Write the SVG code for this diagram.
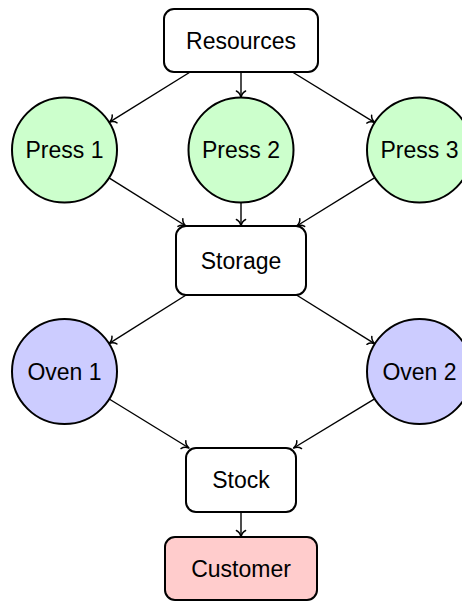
<svg xmlns="http://www.w3.org/2000/svg" width="462" height="602" viewBox="0 0 462 602">
<style>
.box{fill:#ffffff;stroke:#000;stroke-width:2}
.press{fill:#ccffcc;stroke:#000;stroke-width:2}
.oven{fill:#ccccff;stroke:#000;stroke-width:2}
.cust{fill:#ffcccc;stroke:#000;stroke-width:2}
text{font-family:"Liberation Sans",Arial,sans-serif;font-size:23px;fill:#000;text-anchor:middle}
.edge{stroke:#000;stroke-width:1.4;fill:none;marker-end:url(#arr)}
</style>
<defs>
<marker id="arr" markerUnits="userSpaceOnUse" markerWidth="14" markerHeight="14" viewBox="-8 -7 9 14" refX="0" refY="0" orient="auto">
<path d="M -6.5 -4.6 C -5.2 -1.8 -1.8 -0.35 0 0 C -1.8 0.35 -5.2 1.8 -6.5 4.6" fill="none" stroke="#000" stroke-width="1.5" stroke-linecap="round" stroke-linejoin="round"/>
</marker>
</defs>
<rect width="462" height="602" fill="#ffffff"/>
<g id="edges">
<line class="edge" x1="190.2" y1="72" x2="109.1" y2="122.3"/>
<line class="edge" x1="241" y1="72" x2="241" y2="97.5"/>
<line class="edge" x1="292.4" y1="72" x2="374.75" y2="122.55"/>
<line class="edge" x1="109" y1="177.9" x2="185.9" y2="226"/>
<line class="edge" x1="241" y1="202.5" x2="241" y2="226"/>
<line class="edge" x1="374.85" y1="177.6" x2="296.7" y2="226"/>
<line class="edge" x1="186.1" y1="295" x2="108.9" y2="343.55"/>
<line class="edge" x1="296.5" y1="295" x2="374.9" y2="343.8"/>
<line class="edge" x1="109.2" y1="399" x2="188.95" y2="448"/>
<line class="edge" x1="374.6" y1="398.8" x2="293.6" y2="448"/>
<line class="edge" x1="241" y1="512" x2="241" y2="537"/>
</g>
<g id="resources"><rect class="box" x="164" y="9" width="154" height="63" rx="10"/><text x="241" y="48.7">Resources</text></g>
<g id="press1"><circle class="press" cx="64.5" cy="150" r="52.5"/><text x="64.5" y="158.2">Press 1</text></g>
<g id="press2"><circle class="press" cx="241" cy="150" r="52.5"/><text x="241" y="158.2">Press 2</text></g>
<g id="press3"><circle class="press" cx="419.5" cy="150" r="52.5"/><text x="419.5" y="158.2">Press 3</text></g>
<g id="storage"><rect class="box" x="176" y="226" width="130" height="69" rx="10"/><text x="241" y="268.7">Storage</text></g>
<g id="oven1"><circle class="oven" cx="64.5" cy="371.5" r="52.5"/><text x="64.5" y="379.7">Oven 1</text></g>
<g id="oven2"><circle class="oven" cx="419.5" cy="371.5" r="52.5"/><text x="419.5" y="379.7">Oven 2</text></g>
<g id="stock"><rect class="box" x="186" y="448" width="110" height="64" rx="10"/><text x="241" y="488.2">Stock</text></g>
<g id="customer"><rect class="cust" x="165" y="537" width="152" height="63" rx="10"/><text x="241" y="576.7">Customer</text></g>
</svg>
